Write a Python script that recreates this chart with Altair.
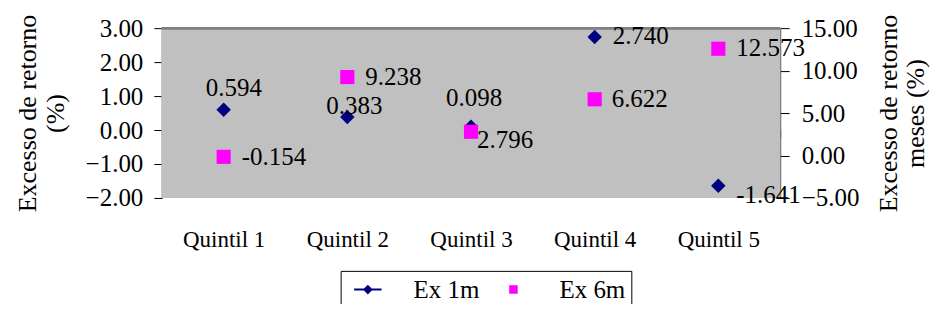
import altair as alt
import pandas as pd

# ---- data ----
categories = ["Quintil 1", "Quintil 2", "Quintil 3", "Quintil 4", "Quintil 5"]
ex_1m = [0.594, 0.383, 0.098, 2.740, -1.641]
ex_6m = [-0.154, 9.238, 2.796, 6.622, 12.573]
series_names = ["Ex 1m", "Ex 6m"]
left_ticks = [-2, -1, 0, 1, 2, 3]
right_ticks = [-5, 0, 5, 10, 15]
left_domain = [-2, 3]
right_domain = [-5, 15]

df = pd.DataFrame({
    "cat": categories,
    "ex1m": ex_1m,
    "ex6m": ex_6m,
    "lab1m": [f"{v:.3f}" for v in ex_1m],
    "lab6m": [f"{v:.3f}" for v in ex_6m],
})

# ---- styling ----
FONT = "Liberation Serif"
NAVY = "#000080"
MAGENTA = "#FF00FF"
W, H = 619, 170
# label nudges (pixels) for each data label, like Excel's hand-placed labels
lbl1m_dx = [-18, -21, -25, 18, 18]
lbl1m_dy = [-22, -11, -29, -1, 9]
lbl6m_dx = [18, 18, 6, 17, 18]
lbl6m_dy = [0, 0, 8, 0, -1]

x_offset = -H * (0 - left_domain[0]) / (left_domain[1] - left_domain[0])

xaxis = alt.Axis(title=None, offset=x_offset, domainColor="#333333", tickColor="#333333",
                 tickSize=7, tickBand="extent", labelPadding=92, labelFont=FONT,
                 labelFontSize=23, labelAngle=0, labelColor="black", grid=False)
xenc = alt.X("cat:N", sort=categories,
             scale=alt.Scale(domain=categories, paddingInner=0, paddingOuter=0),
             axis=xaxis)

yl_scale = alt.Scale(domain=left_domain, nice=False, zero=False)
yr_scale = alt.Scale(domain=right_domain, nice=False, zero=False)

yl_axis = alt.Axis(values=left_ticks, format=".2f", title=["Excesso de retorno", "(%)"],
                   grid=False, domainColor="black", tickColor="black", tickSize=8,
                   labelPadding=11, labelFont=FONT, labelFontSize=25, labelColor="black",
                   titleFont=FONT, titleFontSize=26, titleFontWeight="normal",
                   titleColor="black", titleLineHeight=28, titlePadding=17)
yr_axis = alt.Axis(values=right_ticks, format=".2f", orient="right",
                   title=["Excesso de retorno", "meses (%)"], titleAngle=270,
                   grid=False, domainColor="black", tickColor="black", tickSize=9,
                   labelPadding=12, labelFont=FONT, labelFontSize=25, labelColor="black",
                   titleFont=FONT, titleFontSize=26, titleFontWeight="normal",
                   titleColor="black", titleLineHeight=27, titlePadding=16)

base = alt.Chart(df)

background = base.mark_rect(color="#C0C0C0").encode(
    y=alt.Y(datum=left_domain[0], scale=yl_scale, axis=yl_axis),
    y2=alt.datum(left_domain[1]))

top_border = base.mark_rule(color="#808080", strokeWidth=2).encode(
    y=alt.Y(datum=left_domain[1], scale=yl_scale, axis=yl_axis))

pts1m = base.mark_point(shape="diamond", filled=True, size=210, color=NAVY, opacity=1).encode(
    x=xenc, y=alt.Y("ex1m:Q", scale=yl_scale, axis=yl_axis))

texts1m = [
    base.transform_filter(alt.datum.cat == c).mark_text(
        dx=dx, dy=dy, align="left", baseline="middle", font=FONT, fontSize=25, color="black"
    ).encode(x=xenc, y=alt.Y("ex1m:Q", scale=yl_scale, axis=yl_axis), text="lab1m:N")
    for c, dx, dy in zip(categories, lbl1m_dx, lbl1m_dy)
]

# legend symbols (unit = 10px for size 400): a line through a diamond, and a square
path1 = "M-1,0L4.5,0M1.75,-0.7L2.45,0L1.75,0.7L1.05,0Z"
path2 = "M1.05,-0.65L2.35,-0.65L2.35,0.65L1.05,0.65Z"
leg_cfg = alt.Legend(title=None, orient="none", legendX=179, legendY=243,
                     direction="horizontal", strokeColor="black", fillColor="white",
                     padding=6, labelFont=FONT, labelFontSize=25, labelColor="black",
                     labelOffset=42, columnPadding=13, symbolStrokeWidth=2)
long_df = pd.DataFrame({"series": series_names})
legend_layer = alt.Chart(long_df).transform_filter("false").mark_point(
    filled=True, size=400, opacity=1, strokeWidth=2).encode(
    shape=alt.Shape("series:N", scale=alt.Scale(domain=series_names, range=[path1, path2]), legend=leg_cfg),
    fill=alt.Fill("series:N", scale=alt.Scale(domain=series_names, range=[NAVY, MAGENTA]), legend=leg_cfg),
    stroke=alt.Stroke("series:N", scale=alt.Scale(domain=series_names, range=[NAVY, MAGENTA]), legend=leg_cfg),
)

left = alt.layer(background, top_border, pts1m, *texts1m, legend_layer)

pts6m = base.mark_point(shape="square", filled=True, size=200, color=MAGENTA, opacity=1).encode(
    x=xenc, y=alt.Y("ex6m:Q", scale=yr_scale, axis=yr_axis))
texts6m = [
    base.transform_filter(alt.datum.cat == c).mark_text(
        dx=dx, dy=dy, align="left", baseline="middle", font=FONT, fontSize=25, color="black"
    ).encode(x=xenc, y=alt.Y("ex6m:Q", scale=yr_scale, axis=yr_axis), text="lab6m:N")
    for c, dx, dy in zip(categories, lbl6m_dx, lbl6m_dy)
]
right = alt.layer(pts6m, *texts6m)

chart = alt.layer(left, right).resolve_scale(y="independent").properties(
    width=W, height=H,
    padding={"left": 154, "top": 20, "right": 150, "bottom": 106},
    autosize=alt.AutoSizeParams(type="none"),
).configure_view(stroke=None)

chart.save("out.html", embed_options={"renderer": "svg", "actions": False})
